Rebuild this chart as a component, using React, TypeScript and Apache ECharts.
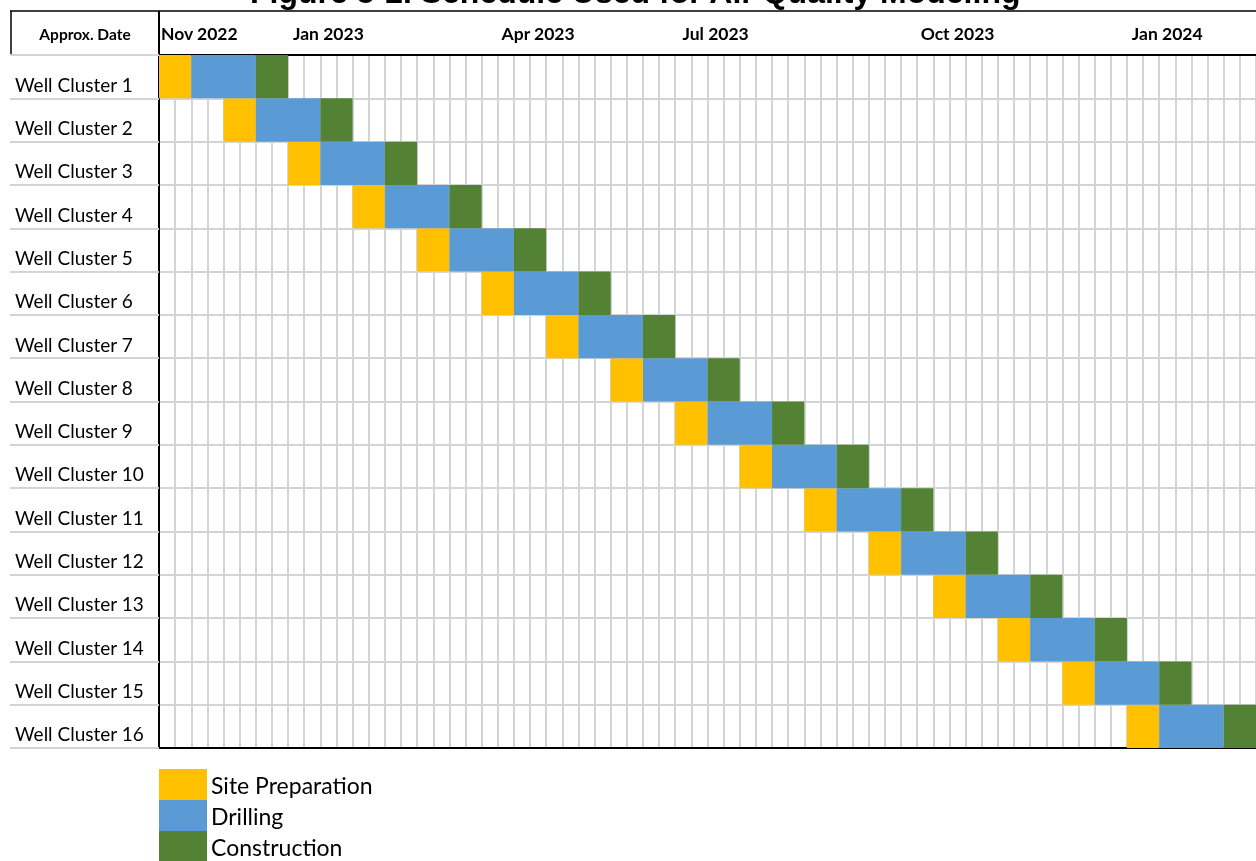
import React, { useEffect, useRef } from "react";
import * as echarts from "echarts";

const clusters = [
  "Well Cluster 1", "Well Cluster 2", "Well Cluster 3", "Well Cluster 4",
  "Well Cluster 5", "Well Cluster 6", "Well Cluster 7", "Well Cluster 8",
  "Well Cluster 9", "Well Cluster 10", "Well Cluster 11", "Well Cluster 12",
  "Well Cluster 13", "Well Cluster 14", "Well Cluster 15", "Well Cluster 16",
];
// start week (offset from first week of Nov 2022)
const startWeek = [0, 4, 8, 12, 16, 20, 24, 28, 32, 36, 40, 44, 48, 52, 56, 60];
const sitePrepWeeks = [2, 2, 2, 2, 2, 2, 2, 2, 2, 2, 2, 2, 2, 2, 2, 2];
const drillingWeeks = [4, 4, 4, 4, 4, 4, 4, 4, 4, 4, 4, 4, 4, 4, 4, 4];
const constructionWeeks = [2, 2, 2, 2, 2, 2, 2, 2, 2, 2, 2, 2, 2, 2, 2, 2];
const totalWeeks = 68;
const monthTickWeek = [2, 10, 23, 34, 49, 62];
const monthTickLabel = ["Nov 2022", "Jan 2023", "Apr 2023", "Jul 2023", "Oct 2023", "Jan 2024"];

const FONT = "Lato, 'Open Sans', sans-serif";

export default function App() {
  const ref = useRef<HTMLDivElement>(null);
  useEffect(() => {
    if (!ref.current) return;
    const chart = echarts.init(ref.current, null, { renderer: "svg" });
    const weekCats = Array.from({ length: totalWeeks }, (_, i) => {
      const k = monthTickWeek.indexOf(i);
      return k >= 0 ? monthTickLabel[k] : "";
    });
    const grid = { left: 159, right: 0, top: 55, bottom: 113 };
    const black = "#000";
    chart.setOption({
      animation: false,
      title: {
        text: "Figure 5-2. Schedule Used for Air Quality Modeling",
        left: 245,
        top: -29,
        textStyle: { fontFamily: "'Liberation Sans', Arial, sans-serif", fontWeight: "bold", fontSize: 32, color: "#000" },
      },
      grid,
      legend: {
        data: ["Site Preparation", "Drilling", "Construction"],
        orient: "vertical",
        left: 159,
        top: 769,
        height: 120,
        itemWidth: 48,
        itemHeight: 31,
        itemGap: 0,
        icon: "rect",
        padding: 0,
        textStyle: { fontFamily: FONT, fontSize: 23, color: "#000", padding: [4, 0, 0, -1] },
        selectedMode: false,
      },
      xAxis: [
        {
          type: "value",
          min: 0,
          max: totalWeeks,
          interval: 1,
          position: "bottom",
          axisLabel: { show: false },
          axisTick: { show: false },
          axisLine: { show: true, lineStyle: { color: black, width: 2 } },
          splitLine: { show: true, lineStyle: { color: "#d4d4d4", width: 2 } },
        },
        {
          type: "category",
          data: weekCats,
          position: "top",
          boundaryGap: true,
          axisTick: { show: false },
          axisLine: { show: true, lineStyle: { color: black, width: 2 } },
          axisLabel: {
            interval: 0,
            fontFamily: FONT,
            fontWeight: "bold",
            fontSize: 17.5,
            color: "#000",
            margin: 13,
          },
          splitLine: { show: false },
        },
      ],
      yAxis: {
        type: "category",
        data: clusters,
        inverse: true,
        axisLine: { show: true, lineStyle: { color: black, width: 2 } },
        axisTick: { show: true, alignWithLabel: false, length: 149, lineStyle: { color: "#d4d4d4", width: 2 } },
        splitLine: { show: true, lineStyle: { color: "#d4d4d4", width: 2 } },
        axisLabel: {
          align: "left",
          verticalAlign: "top",
          lineHeight: 15,
          margin: 144,
          fontFamily: FONT,
          fontSize: 19,
          color: "#000",
        },
      },
      series: [
        {
          name: "offset",
          type: "bar",
          stack: "s",
          data: startWeek,
          itemStyle: { color: "transparent" },
          barCategoryGap: "0%",
          silent: true,
        },
        {
          name: "Site Preparation",
          type: "bar",
          stack: "s",
          data: sitePrepWeeks,
          itemStyle: { color: "#FFC000" },
          barCategoryGap: "0%",
        },
        {
          name: "Drilling",
          type: "bar",
          stack: "s",
          data: drillingWeeks,
          itemStyle: { color: "#5B9BD5" },
          barCategoryGap: "0%",
        },
        {
          name: "Construction",
          type: "bar",
          stack: "s",
          data: constructionWeeks,
          itemStyle: { color: "#548235" },
          barCategoryGap: "0%",
        },
      ],
      graphic: [
        { type: "line", shape: { x1: 10, y1: 11, x2: 1256, y2: 11 }, style: { stroke: "#000", lineWidth: 1.5 } },
        { type: "line", shape: { x1: 11, y1: 11, x2: 11, y2: 55 }, style: { stroke: "#000", lineWidth: 1.5 } },
        { type: "line", shape: { x1: 10, y1: 55, x2: 159, y2: 55 }, style: { stroke: "#000", lineWidth: 2 } },
        { type: "line", shape: { x1: 159, y1: 11, x2: 159, y2: 55 }, style: { stroke: "#000", lineWidth: 2 } },
        { type: "line", shape: { x1: 10, y1: 748, x2: 159, y2: 748 }, style: { stroke: "#000", lineWidth: 2 } },
        {
          type: "text",
          x: 85,
          y: 34,
          style: { text: "Approx. Date", fontFamily: FONT, fontWeight: "bold", fontSize: 15.5, fill: "#000", align: "center", verticalAlign: "middle" },
        },
      ],
    });
    return () => chart.dispose();
  }, []);
  return <div ref={ref} style={{ position: "fixed", left: 0, top: 0, width: 1256, height: 861 }} />;
}
